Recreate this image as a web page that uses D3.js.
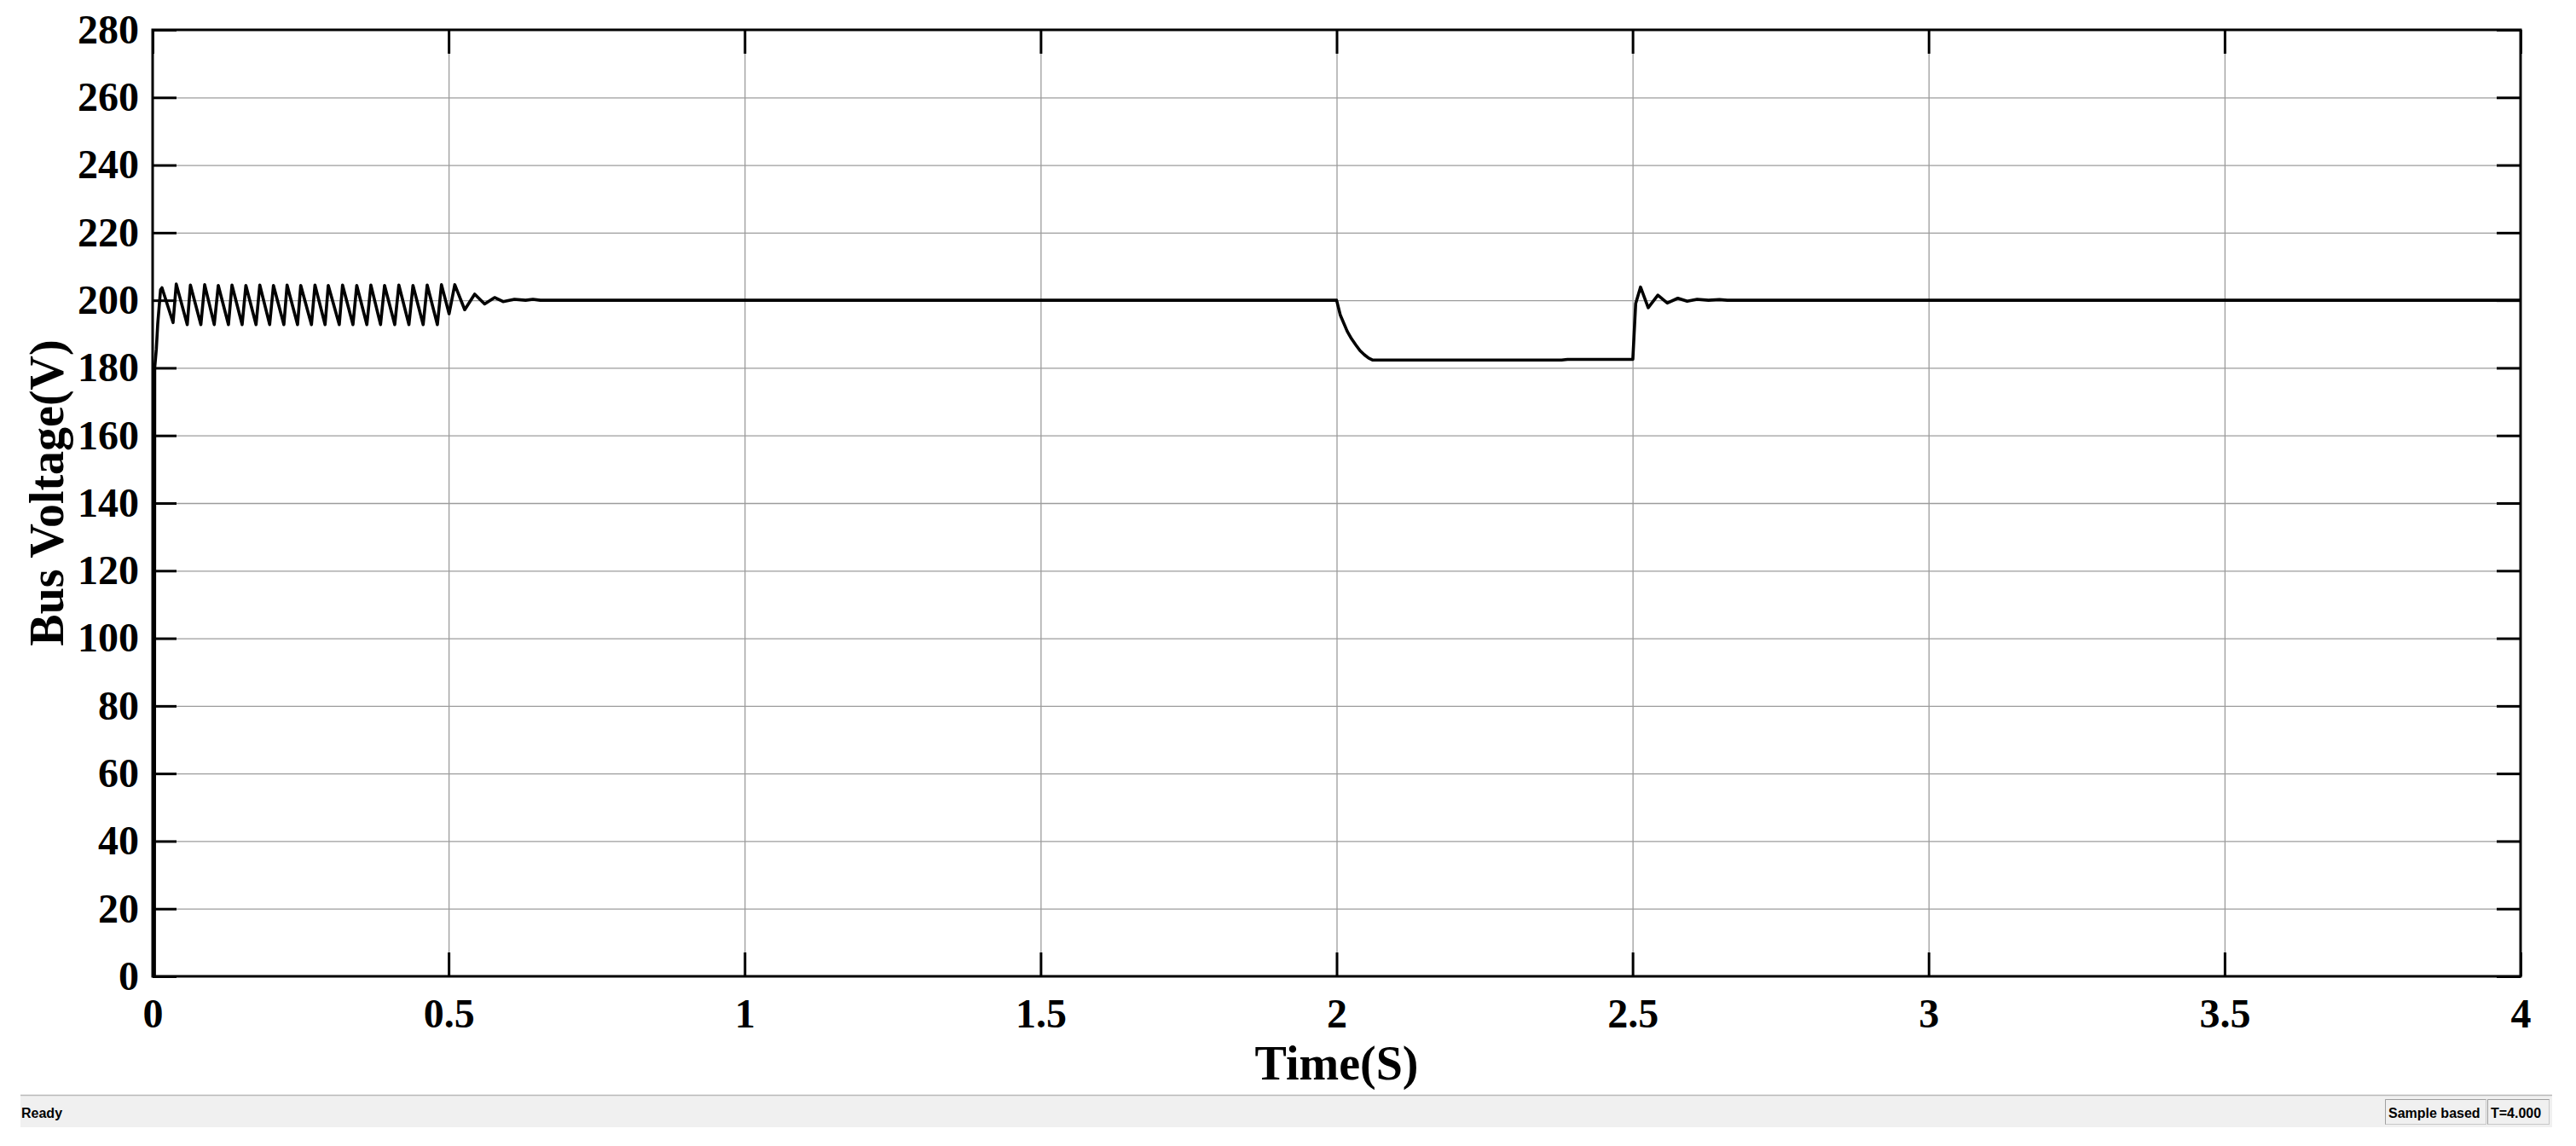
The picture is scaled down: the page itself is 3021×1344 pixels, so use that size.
<!DOCTYPE html>
<html>
<head>
<meta charset="utf-8">
<script src="https://cdn.jsdelivr.net/npm/d3@7"></script>
<style>
  body { margin: 0; background: #fff; }
  svg { display: block; }
</style>
</head>
<body>
<svg id="scope" width="3021" height="1344"></svg>
<script>
// tick values and labels
const xTicks = [0, 0.5, 1, 1.5, 2, 2.5, 3, 3.5, 4];
const xTickLabels = ['0', '0.5', '1', '1.5', '2', '2.5', '3', '3.5', '4'];
const yTicks = [0, 20, 40, 60, 80, 100, 120, 140, 160, 180, 200, 220, 240, 260, 280];

// bus voltage trace (time in s, voltage in V)
const timeS = [
  0, 0.0030, 0.0035, 0.0062, 0.0086, 0.0134, 0.0158,
  0.0345, 0.0399, 0.0585, 0.0638, 0.0815, 0.0879, 0.1041, 0.1109,
  0.1281, 0.1340, 0.1512, 0.1575, 0.1747, 0.1810, 0.1977, 0.2041,
  0.2217, 0.2271, 0.2448, 0.2502, 0.2683, 0.2742, 0.2913, 0.2967,
  0.3153, 0.3208, 0.3384, 0.3448, 0.3619, 0.3687, 0.3850, 0.3918,
  0.4090, 0.4159, 0.4330, 0.4398, 0.4570, 0.4638, 0.4810, 0.4879,
  0.5008, 0.5104, 0.5272, 0.5440, 0.5608, 0.5776, 0.5920, 0.6112,
  0.6300, 0.6424, 0.6550,
  2.0000, 2.0061, 2.0180, 2.0252, 2.0324, 2.0396, 2.0468, 2.0540, 2.0612,
  2.3800, 2.3900, 2.5004,
  2.5052, 2.5134, 2.5264, 2.5427, 2.5586, 2.5764, 2.5922, 2.6090,
  2.6282, 2.6466, 2.6600, 4.0000
];
const busV = [
  0, 0, 180, 185.5, 193, 203.1, 203.7,
  193.4, 204.8, 192.8, 204.5, 192.8, 204.6, 192.8, 204.4,
  192.8, 204.5, 192.8, 204.4, 192.8, 204.5, 192.8, 204.4,
  192.8, 204.5, 192.8, 204.4, 192.8, 204.5, 192.8, 204.4,
  192.8, 204.5, 192.8, 204.4, 192.8, 204.5, 192.8, 204.4,
  192.8, 204.5, 192.8, 204.4, 192.8, 204.5, 192.8, 204.6,
  196.0, 204.6, 197.2, 201.8, 198.9, 200.8, 199.6, 200.3,
  200.0, 200.3, 200.0,
  200.0, 195.7, 190.8, 188.6, 186.8, 185.1, 183.9, 182.9, 182.3,
  182.3, 182.5, 182.5,
  199.0, 203.9, 197.8, 201.5, 199.2, 200.6, 199.7, 200.3,
  200.0, 200.2, 200.0, 200.0
];

const xLabel = 'Time(S)';
const yLabel = 'Bus Voltage(V)';

const L = 179, R = 2956, T = 35, B = 1145;
const W = R - L, H = B - T;
const serif = '"Liberation Serif", "Times New Roman", serif';
const sans = '"Liberation Sans", Arial, sans-serif';

const svg = d3.select('#scope');
const x = d3.scaleLinear().domain([0, 4]).range([L, R]);
const y = d3.scaleLinear().domain([0, 280]).range([B, T]);

// grid
const gx = svg.append('g').attr('transform', `translate(0,${B})`)
  .call(d3.axisBottom(x).tickValues(xTicks.slice(1, -1)).tickSize(-H).tickFormat(''));
const gy = svg.append('g').attr('transform', `translate(${L},0)`)
  .call(d3.axisLeft(y).tickValues(yTicks.slice(1, -1)).tickSize(-W).tickFormat(''));
[gx, gy].forEach(g => {
  g.select('.domain').remove();
  g.selectAll('line').attr('stroke', '#9c9c9c').attr('stroke-width', 1.3);
});

// trace
const pts = timeS.map((t, i) => [t, busV[i]]);
svg.append('path')
  .datum(pts)
  .attr('fill', 'none')
  .attr('stroke', '#000')
  .attr('stroke-width', 3.6)
  .attr('stroke-linejoin', 'round')
  .attr('d', d3.line().x(d => x(d[0])).y(d => y(d[1])));

// axes with inward ticks on all four sides
const tick = 28;
const ax = svg.append('g').attr('transform', `translate(0,${B})`)
  .call(d3.axisBottom(x).tickValues(xTicks).tickSizeInner(-tick).tickSizeOuter(0)
    .tickPadding(26).tickFormat((d, i) => xTickLabels[i]));
const ay = svg.append('g').attr('transform', `translate(${L},0)`)
  .call(d3.axisLeft(y).tickValues(yTicks).tickSizeInner(-tick).tickSizeOuter(0)
    .tickPadding(16));
const axT = svg.append('g').attr('transform', `translate(0,${T})`)
  .call(d3.axisTop(x).tickValues(xTicks).tickSizeInner(-tick).tickSizeOuter(0).tickFormat(''));
const ayR = svg.append('g').attr('transform', `translate(${R},0)`)
  .call(d3.axisRight(y).tickValues(yTicks).tickSizeInner(-tick).tickSizeOuter(0).tickFormat(''));
[ax, ay, axT, ayR].forEach(g => {
  g.select('.domain').remove();
  g.selectAll('line').attr('stroke', '#000').attr('stroke-width', 3);
  g.selectAll('text').attr('fill', '#000')
    .style('font-family', serif).style('font-weight', 'bold').style('font-size', '48px');
});

svg.append('rect')
  .attr('x', L).attr('y', T).attr('width', W).attr('height', H)
  .attr('fill', 'none').attr('stroke', '#000').attr('stroke-width', 3);

// axis titles
svg.append('text')
  .attr('x', (L + R) / 2).attr('y', 1266)
  .attr('text-anchor', 'middle')
  .style('font-family', serif).style('font-weight', 'bold').style('font-size', '56px')
  .text(xLabel);
svg.append('text')
  .attr('transform', 'translate(74,578) rotate(-90)')
  .attr('text-anchor', 'middle')
  .style('font-family', serif).style('font-weight', 'bold').style('font-size', '56px')
  .text(yLabel);

// status bar
const sb = svg.append('g');
sb.append('rect').attr('x', 24).attr('y', 1284).attr('width', 2969).attr('height', 38).attr('fill', '#f0f0f0');
sb.append('line').attr('x1', 24).attr('x2', 2993).attr('y1', 1284.5).attr('y2', 1284.5).attr('stroke', '#b9b9b9').attr('stroke-width', 1.5);
sb.append('text').attr('x', 25).attr('y', 1311)
  .style('font-family', sans).style('font-weight', 'bold').style('font-size', '16px').text('Ready');
const boxes = [
  { x0: 2797, x1: 2915, label: 'Sample based' },
  { x0: 2917, x1: 2989, label: 'T=4.000' }
];
boxes.forEach(b => {
  sb.append('rect').attr('x', b.x0 + 0.5).attr('y', 1289.5).attr('width', b.x1 - b.x0).attr('height', 29)
    .attr('fill', '#f0f0f0').attr('stroke', '#c8c8c8');
  sb.append('path').attr('d', `M${b.x0 + 0.5},${1318.5}V1289.5H${b.x1 + 0.5}`)
    .attr('fill', 'none').attr('stroke', '#a0a0a0');
  sb.append('text').attr('x', b.x0 + 4).attr('y', 1311)
    .style('font-family', sans).style('font-weight', 'bold').style('font-size', '16px').text(b.label);
});
</script>
</body>
</html>
